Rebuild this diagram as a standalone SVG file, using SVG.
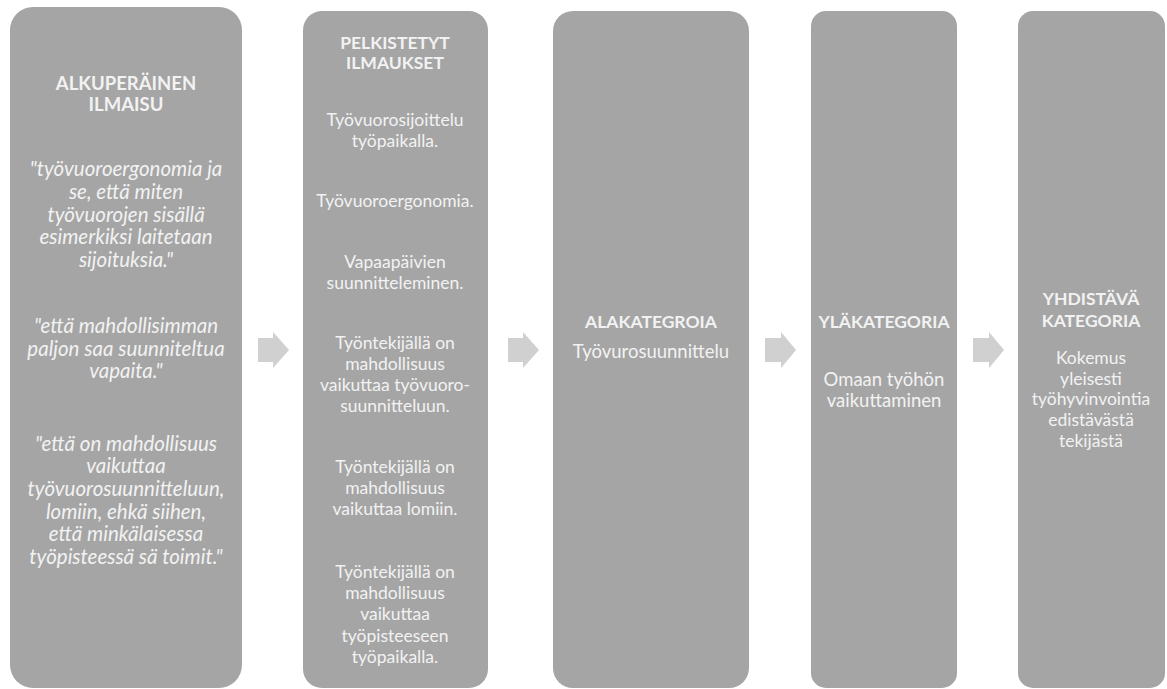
<svg xmlns="http://www.w3.org/2000/svg" width="1167" height="689" viewBox="0 0 1167 689">
  <style>
    .box { fill: #a5a5a5; }
    .arrow { fill: #d0d0d0; }
    text { font-family: Lato, "Open Sans", "Liberation Sans", sans-serif; fill: #f2f2f2; text-anchor: middle; }
    .title { font-weight: bold; font-size: 17.5px; }
    .title-lg { font-weight: bold; font-size: 18.5px; }
    .body { font-size: 17.5px; }
    .body-lg { font-size: 18.5px; }
    .quote { font-size: 20.5px; font-style: italic; }
  </style>
  <rect width="1167" height="689" fill="#ffffff"/>

  <!-- process arrows between columns -->
  <g id="connectors">
    <polygon class="arrow" points="258,338 273,338 273,332 289,350 273,368 273,362 258,362"/>
    <polygon class="arrow" points="508,338 523,338 523,332 539,350 523,368 523,362 508,362"/>
    <polygon class="arrow" points="765,338 781,338 781,332 796,350 781,368 781,362 765,362"/>
    <polygon class="arrow" points="973,338 989,338 989,332 1004,350 989,368 989,362 973,362"/>
  </g>

  <g id="alkuperainen">
    <rect class="box" x="10" y="7" width="232" height="681" rx="23"/>
    <text class="title-lg" x="126" y="90">ALKUPERÄINEN</text>
    <text class="title-lg" x="126" y="111">ILMAISU</text>
    <text class="quote" x="126" y="176">"työvuoroergonomia ja</text>
    <text class="quote" x="126" y="199">se, että miten</text>
    <text class="quote" x="126" y="222">työvuorojen sisällä</text>
    <text class="quote" x="126" y="244">esimerkiksi laitetaan</text>
    <text class="quote" x="126" y="267">sijoituksia."</text>
    <text class="quote" x="126" y="333">"että mahdollisimman</text>
    <text class="quote" x="126" y="356">paljon saa suunniteltua</text>
    <text class="quote" x="126" y="378">vapaita."</text>
    <text class="quote" x="126" y="451">"että on mahdollisuus</text>
    <text class="quote" x="126" y="473">vaikuttaa</text>
    <text class="quote" x="126" y="496">työvuorosuunnitteluun,</text>
    <text class="quote" x="126" y="519">lomiin, ehkä siihen,</text>
    <text class="quote" x="126" y="541">että minkälaisessa</text>
    <text class="quote" x="126" y="564">työpisteessä sä toimit."</text>
  </g>

  <g id="pelkistetyt">
    <rect class="box" x="303" y="11" width="185" height="677" rx="19"/>
    <text class="title" x="395" y="49">PELKISTETYT</text>
    <text class="title" x="395" y="69">ILMAUKSET</text>
    <text class="body" x="395" y="126">Työvuorosijoittelu</text>
    <text class="body" x="395" y="147">työpaikalla.</text>
    <text class="body" x="395" y="207">Työvuoroergonomia.</text>
    <text class="body" x="395" y="268">Vapaapäivien</text>
    <text class="body" x="395" y="289">suunnitteleminen.</text>
    <text class="body" x="395" y="349">Työntekijällä on</text>
    <text class="body" x="395" y="370">mahdollisuus</text>
    <text class="body" x="395" y="391">vaikuttaa työvuoro-</text>
    <text class="body" x="395" y="412">suunnitteluun.</text>
    <text class="body" x="395" y="473">Työntekijällä on</text>
    <text class="body" x="395" y="494">mahdollisuus</text>
    <text class="body" x="395" y="515">vaikuttaa lomiin.</text>
    <text class="body" x="395" y="578">Työntekijällä on</text>
    <text class="body" x="395" y="599">mahdollisuus</text>
    <text class="body" x="395" y="620">vaikuttaa</text>
    <text class="body" x="395" y="642">työpisteeseen</text>
    <text class="body" x="395" y="663">työpaikalla.</text>
  </g>

  <g id="alakategoria">
    <rect class="box" x="553" y="11" width="196" height="677" rx="20"/>
    <text class="title" x="651" y="328">ALAKATEGROIA</text>
    <text class="body-lg" x="651" y="358">Työvurosuunnittelu</text>
  </g>

  <g id="ylakategoria">
    <rect class="box" x="811" y="11" width="146" height="677" rx="15"/>
    <text class="title" x="884" y="328">YLÄKATEGORIA</text>
    <text class="body-lg" x="884" y="386">Omaan työhön</text>
    <text class="body-lg" x="884" y="407">vaikuttaminen</text>
  </g>

  <g id="yhdistava">
    <rect class="box" x="1018" y="11" width="147" height="677" rx="15"/>
    <text class="title" x="1091" y="305">YHDISTÄVÄ</text>
    <text class="title" x="1091" y="327">KATEGORIA</text>
    <text class="body" x="1091" y="364">Kokemus</text>
    <text class="body" x="1091" y="385">yleisesti</text>
    <text class="body" x="1091" y="405">työhyvinvointia</text>
    <text class="body" x="1091" y="426">edistävästä</text>
    <text class="body" x="1091" y="447">tekijästä</text>
  </g>
</svg>
